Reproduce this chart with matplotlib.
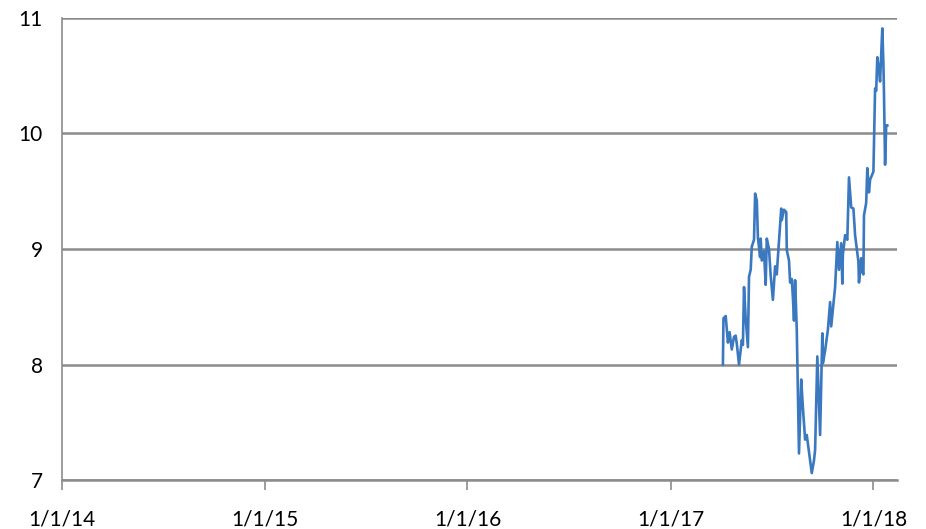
import matplotlib
matplotlib.use("Agg")
import matplotlib.pyplot as plt
import matplotlib.dates as mdates
import pandas as pd

# price series (approx.)
dates = [
    "2017-04-05", "2017-04-06", "2017-04-10", "2017-04-14", "2017-04-17", "2017-04-21",
    "2017-04-25", "2017-04-28", "2017-04-30", "2017-05-04", "2017-05-09", "2017-05-11",
    "2017-05-13", "2017-05-16", "2017-05-20", "2017-05-22", "2017-05-25", "2017-05-27",
    "2017-05-31", "2017-06-02", "2017-06-05", "2017-06-07", "2017-06-11", "2017-06-12",
    "2017-06-14", "2017-06-18", "2017-06-21", "2017-06-23", "2017-06-27", "2017-06-30",
    "2017-07-04", "2017-07-08", "2017-07-11", "2017-07-13", "2017-07-19", "2017-07-20",
    "2017-07-24", "2017-07-28", "2017-07-29", "2017-08-02", "2017-08-04", "2017-08-07",
    "2017-08-09", "2017-08-11", "2017-08-13", "2017-08-16", "2017-08-20", "2017-08-24",
    "2017-08-27", "2017-08-31", "2017-09-03", "2017-09-09", "2017-09-12", "2017-09-16",
    "2017-09-18", "2017-09-22", "2017-09-27", "2017-10-01", "2017-10-02", "2017-10-06",
    "2017-10-11", "2017-10-15", "2017-10-17", "2017-10-24", "2017-10-28", "2017-10-31",
    "2017-11-04", "2017-11-06", "2017-11-07", "2017-11-11", "2017-11-15", "2017-11-18",
    "2017-11-22", "2017-11-26", "2017-11-29", "2017-12-05", "2017-12-06", "2017-12-10",
    "2017-12-12", "2017-12-14", "2017-12-15", "2017-12-19", "2017-12-21", "2017-12-24",
    "2017-12-26", "2018-01-01", "2018-01-04", "2018-01-06", "2018-01-08", "2018-01-11",
    "2018-01-13", "2018-01-17", "2018-01-19", "2018-01-20", "2018-01-22", "2018-01-24",
    "2018-01-26",
]
values = [
    8.00, 8.40, 8.42, 8.19, 8.28, 8.13,
    8.24, 8.25, 8.18, 8.00, 8.21, 8.17,
    8.67, 8.40, 8.15, 8.76, 8.82, 9.02,
    9.08, 9.48, 9.42, 9.10, 8.93, 9.09,
    8.90, 8.98, 8.69, 9.09, 9.00, 8.77,
    8.56, 8.85, 8.78, 8.93, 9.35, 9.25,
    9.34, 9.32, 8.99, 8.90, 8.71, 8.74,
    8.58, 8.38, 8.73, 8.30, 7.23, 7.87,
    7.63, 7.35, 7.39, 7.17, 7.06, 7.17,
    7.26, 8.07, 7.39, 8.27, 8.01, 8.12,
    8.30, 8.54, 8.33, 8.67, 9.06, 8.82,
    9.05, 8.70, 8.95, 9.12, 9.08, 9.62,
    9.36, 9.35, 9.12, 8.89, 8.71, 8.92,
    8.80, 8.78, 9.29, 9.40, 9.70, 9.49,
    9.60, 9.67, 10.39, 10.37, 10.66, 10.55,
    10.45, 10.91, 10.60, 10.36, 9.73, 10.07,
    10.07,
]

x_start = "2014-01-01"
x_end = "2018-02-13"
y_ticks = [7, 8, 9, 10, 11]

plt.rcParams["font.family"] = ["Lato", "DejaVu Sans"]

fig = plt.figure(figsize=(9.26, 5.29), dpi=100)
ax = fig.add_axes([0.067, 0.0926, 0.902, 0.8734])

ax.plot(pd.to_datetime(dates), values, color="#3a78c0", linewidth=1.9)

ax.set_xlim(pd.Timestamp(x_start), pd.Timestamp(x_end))
ax.set_ylim(y_ticks[0], y_ticks[-1])
ax.set_yticks(y_ticks)
ax.yaxis.grid(True, color="#8c8c8c", linewidth=1.8)
ax.set_axisbelow(True)

ax.xaxis.set_major_locator(mdates.YearLocator())
ax.xaxis.set_major_formatter(
    plt.FuncFormatter(lambda v, pos: (lambda d: f"{d.month}/{d.day}/{d:%y}")(mdates.num2date(v)))
)

for side in ("top", "right"):
    ax.spines[side].set_visible(False)
ax.spines["left"].set_color("#8c8c8c")
ax.spines["left"].set_linewidth(1.2)
ax.spines["bottom"].set_color("#8c8c8c")
ax.spines["bottom"].set_linewidth(1.8)

ax.tick_params(axis="y", length=0, pad=14, labelsize=15)
ax.tick_params(axis="x", direction="out", length=7, width=1.2, color="#8c8c8c",
               pad=14, labelsize=15)

fig.savefig("out.png", dpi=100)
